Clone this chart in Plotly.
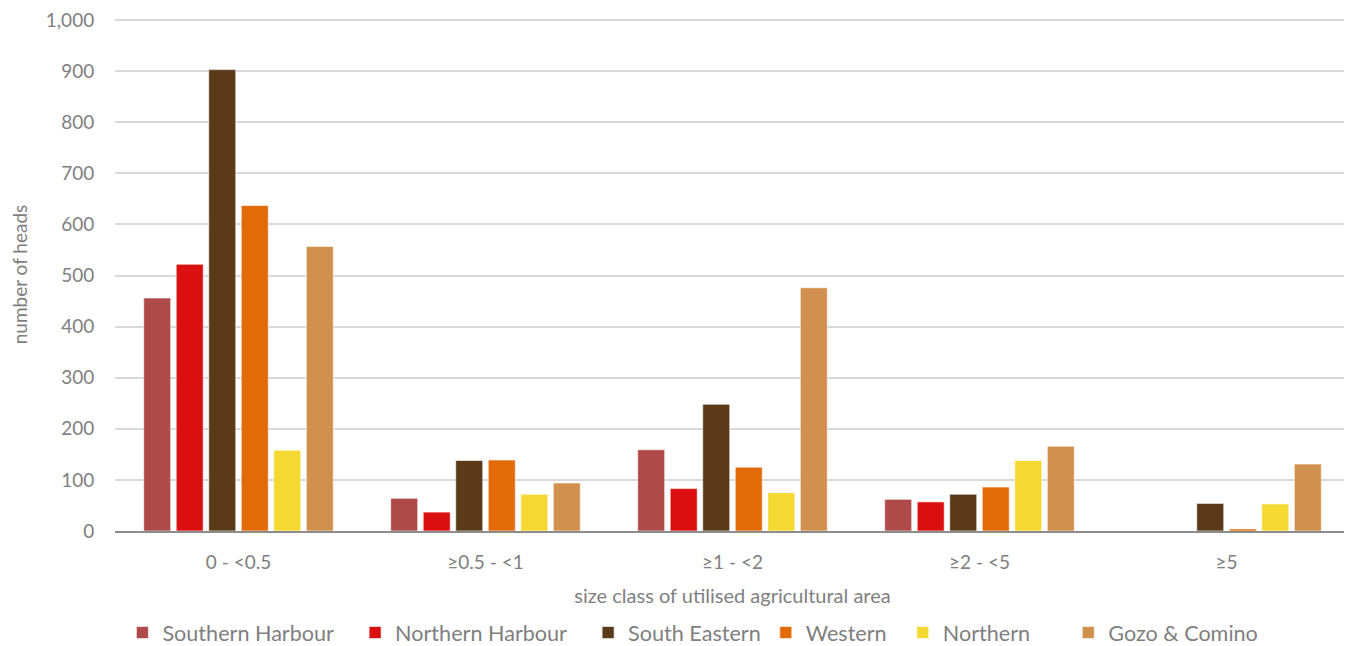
import plotly.graph_objects as go

categories = ["0 - <0.5", "≥0.5 - <1", "≥1 - <2", "≥2 - <5", "≥5"]
series_names = ["Southern Harbour", "Northern Harbour", "South Eastern", "Western", "Northern", "Gozo & Comino"]
southern_harbour = [456, 64, 159, 62, 0]
northern_harbour = [522, 37, 83, 57, 0]
south_eastern = [903, 138, 248, 72, 54]
western = [637, 139, 125, 86, 4]
northern = [158, 72, 75, 138, 53]
gozo_comino = [557, 94, 476, 166, 131]
colors = ["#AE4A4A", "#D9100F", "#5A3A18", "#E36A08", "#F5D933", "#D2904E"]

values = [southern_harbour, northern_harbour, south_eastern, western, northern, gozo_comino]

font_family = "Lato, 'Open Sans', sans-serif"
grey = "#7F7F7F"
nb = "\u00a0"
pads = [nb * 3, nb * 3, "", nb * 2, nb * 6, ""]

fig = go.Figure()
for name, vals, col, p in zip(series_names, values, colors, pads):
    fig.add_trace(go.Bar(
        x=categories, y=vals, name=name + p,
        marker=dict(color=col, line=dict(color="rgba(255,255,255,0.6)", width=1)),
    ))

# page body has an 8px margin, so the figure is 8px smaller and margins shifted
fig.update_layout(
    width=1344, height=638,
    barmode="group", bargap=0.21, bargroupgap=0.17,
    plot_bgcolor="white", paper_bgcolor="white",
    margin=dict(l=107, r=2, t=10, b=115),
    font=dict(family=font_family, size=19, color=grey),
    xaxis=dict(
        title=dict(text="size class of utilised agricultural area", font=dict(size=20, color=grey), standoff=17),
        showline=True, linecolor="#8C8C8C", linewidth=2,
        tickfont=dict(size=19, color=grey),
        ticks="outside", ticklen=13, tickcolor="rgba(0,0,0,0)",
        automargin=False,
    ),
    yaxis=dict(
        title=dict(text="number of heads", font=dict(size=19, color=grey), standoff=29),
        range=[0, 1004], tickvals=list(range(0, 1001, 100)), tickformat=",",
        showgrid=True, gridcolor="#D9D9D9", gridwidth=1.5,
        zeroline=False, tickfont=dict(size=19, color=grey),
        ticks="outside", ticklen=16, tickcolor="rgba(0,0,0,0)",
        ticklabeloverflow="allow",
        automargin=False,
    ),
    legend=dict(
        orientation="h", x=0.006, xanchor="left",
        yref="container", y=0.0204, yanchor="middle",
        font=dict(size=21.6, color=grey), itemwidth=30,
    ),
)

fig.write_html("out.html")
